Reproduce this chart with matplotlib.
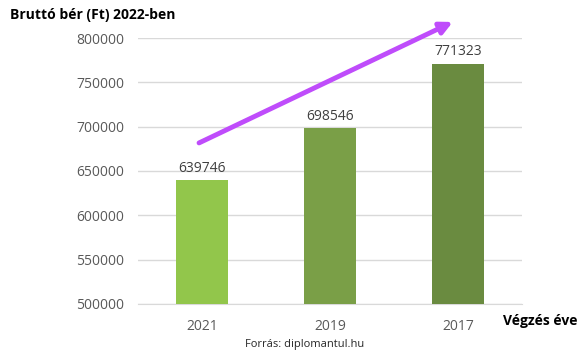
import matplotlib.pyplot as plt

years = ["2021", "2019", "2017"]
salaries = [639746, 698546, 771323]
bar_colors = ["#92C64B", "#7A9F47", "#6A8B40"]
y_ticks = [500000, 550000, 600000, 650000, 700000, 750000, 800000]

plt.rcParams["font.family"] = ["Open Sans", "DejaVu Sans"]

fig = plt.figure(figsize=(5.82, 3.6), dpi=100)
ax = fig.add_axes([0.237, 0.156, 0.66, 0.738])

x = range(len(years))
bars = ax.bar(x, salaries, width=0.4, color=bar_colors, zorder=3)

for xi, val in zip(x, salaries):
    ax.text(xi, val + 5000, str(val), ha="center", va="bottom",
            fontsize=10, color="#404040")

ax.set_xlim(-0.5, 2.5)
ax.set_ylim(500000, 800000)
ax.set_yticks(y_ticks)
ax.set_yticklabels([str(t) for t in y_ticks])
ax.set_xticks(list(x))
ax.set_xticklabels(years)
ax.tick_params(axis="both", length=0, labelsize=10, labelcolor="#595959")
ax.tick_params(axis="x", pad=11)
ax.tick_params(axis="y", pad=10)
ax.grid(axis="y", color="#D9D9D9", linewidth=1, zorder=0)

for side in ["left", "right", "top"]:
    ax.spines[side].set_visible(False)
ax.spines["bottom"].set_color("#D9D9D9")

fig.text(0.017, 0.958, "Bruttó bér (Ft) 2022-ben", fontsize=10, fontweight="bold",
         ha="left", va="center", color="black")
fig.text(0.993, 0.108, "Végzés éve", fontsize=10, fontweight="bold",
         ha="right", va="center", color="black")
fig.text(0.524, 0.042, "Forrás: diplomantul.hu", fontsize=8,
         ha="center", va="center", color="#262626")

# trend arrow
fig.add_artist(plt.matplotlib.patches.FancyArrowPatch(
    (0.342, 0.603), (0.778, 0.939), transform=fig.transFigure,
    arrowstyle="-|>", mutation_scale=18, linewidth=3.5,
    shrinkA=0, shrinkB=0, color="#BF4CFB", zorder=5))

fig.savefig("out.png", dpi=100)
